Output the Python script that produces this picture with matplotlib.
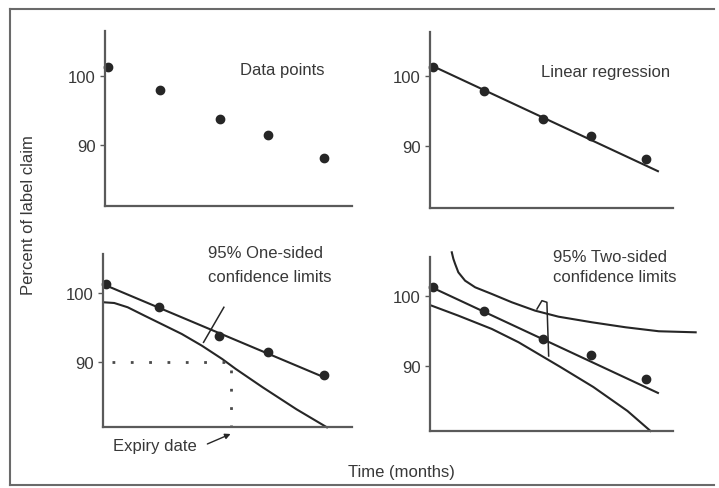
import matplotlib
matplotlib.use("Agg")
import matplotlib.pyplot as plt
from matplotlib.lines import Line2D

# ---------------- data ----------------
months = [0, 2.9, 6.2, 8.9, 12]                 # sampling times
assay = [101.3, 97.9, 93.8, 91.5, 88.1]          # percent of label claim

# regression line drawn in panels (start / end)
fit2_t = [0, 12.7]
fit2_y = [101.4, 86.4]
fit3_t = [-0.1, 12.0]
fit3_y = [101.2, 87.8]
fit4_t = [0, 12.7]
fit4_y = [101.15, 86.15]

# one-sided lower confidence limit (panel 3)
low1_t = [-0.11, 0.45, 1.19, 2.12, 3.05, 4.17, 5.28, 6.4, 7.14, 8.63, 10.49, 12.17]
low1_y = [98.65, 98.55, 97.93, 96.71, 95.51, 94.06, 92.36, 90.43, 89.0, 86.33, 83.15, 80.53]

# two-sided limits (panel 4)
low2_t = [-0.07, 1.43, 3.32, 4.83, 7.19, 9.05, 10.98, 12.28]
low2_y = [98.61, 97.19, 95.29, 93.39, 89.86, 87.0, 83.57, 80.71]
up2_t = [1.06, 1.15, 1.25, 1.43, 1.81, 2.38, 3.32, 4.45, 5.77, 7.09, 8.98, 10.87, 12.75, 14.83]
up2_y = [106.24, 105.3, 104.57, 103.38, 102.19, 101.24, 100.29, 99.1, 97.9, 97.04, 96.24, 95.53, 94.96, 94.81]

# annotation marks
slash_t = [5.37, 6.49]
slash_y = [92.85, 97.93]
bracket_t = [5.87, 6.15, 6.43, 6.53]
bracket_y = [98.14, 99.33, 99.1, 91.43]
spec_limit = 90
expiry_t = 6.9

yticks = [90, 100]
ytick_labels = ["90", "100"]

# ---------------- styling ----------------
W, H = 719, 489
INK = "#262626"
TXT = "#383838"
AX = "#5a5a5a"
plt.rcParams["font.family"] = ["Liberation Sans", "DejaVu Sans"]
FS = 12

fig = plt.figure(figsize=(W / 100, H / 100), dpi=100)
fig.patch.set_facecolor("white")


def fx(x):
    return x / W


def fy(y):
    return 1 - y / H


def make_ax(l, r, t, b, ylim):
    ax = fig.add_axes([fx(l), fy(b), (r - l) / W, (b - t) / H])
    ax.set_xlim(-0.17, 13.55)
    ax.set_ylim(*ylim)
    for s in ("top", "right"):
        ax.spines[s].set_visible(False)
    for s in ("left", "bottom"):
        ax.spines[s].set_color(AX)
        ax.spines[s].set_linewidth(1.6)
    ax.set_xticks([])
    ax.set_yticks(yticks)
    ax.set_yticklabels(ytick_labels)
    ax.tick_params(axis="y", length=3.5, width=1.0, color=AX, pad=3,
                   labelsize=FS, labelcolor=TXT)
    ax.patch.set_alpha(0)
    return ax


ax1 = make_ax(105, 352, 32, 207, (81.16, 106.52))
ax2 = make_ax(430, 673, 33, 209, (81.14, 106.29))
ax3 = make_ax(103, 352, 255, 428, (80.58, 105.65))
ax4 = make_ax(430, 673, 258, 432, (80.71, 105.57))

LW = 1.5
MS = 6

# panel 1: data points
ax1.plot(months, assay, "o", color=INK, ms=MS, clip_on=False)

# panel 2: linear regression
ax2.plot(fit2_t, fit2_y, color=INK, lw=LW, clip_on=False)
ax2.plot(months, assay, "o", color=INK, ms=MS, clip_on=False)

# panel 3: one-sided limits
ax3.plot(fit3_t, fit3_y, color=INK, lw=LW, clip_on=False)
ax3.plot(low1_t, low1_y, color=INK, lw=LW, clip_on=False)
ax3.plot(months, assay, "o", color=INK, ms=MS, clip_on=False)
ax3.plot(slash_t, slash_y, color=INK, lw=1.1, clip_on=False)
ax3.plot([0.3, expiry_t], [spec_limit, spec_limit], color="#4a4a4a", lw=2.0,
         ls=(0, (1.0, 5.6)), clip_on=False)
ax3.plot([expiry_t, expiry_t], [spec_limit - 1.1, ax3.get_ylim()[0]], color="#4a4a4a",
         lw=2.0, ls=(0, (1.0, 5.6)), clip_on=False)
ax3.annotate("", xy=(6.86, 79.57), xytext=(5.58, 78.12),
             arrowprops=dict(arrowstyle="-|>", color=INK, lw=1.0, mutation_scale=8,
                             shrinkA=0, shrinkB=0),
             annotation_clip=False)

# panel 4: two-sided limits
ax4.plot(fit4_t, fit4_y, color=INK, lw=LW, clip_on=False)
ax4.plot(low2_t, low2_y, color=INK, lw=LW, clip_on=False)
ax4.plot(up2_t, up2_y, color=INK, lw=LW, clip_on=False)
ax4.plot(months, assay, "o", color=INK, ms=MS, clip_on=False)
ax4.plot(bracket_t, bracket_y, color=INK, lw=1.1, clip_on=False)

# ---------------- texts ----------------
def ftext(x, y, s, **kw):
    kw.setdefault("fontsize", FS)
    kw.setdefault("color", TXT)
    fig.text(fx(x), fy(y), s, **kw)


ftext(282, 70, "Data points", ha="center", va="center")
ftext(606, 72, "Linear regression", ha="center", va="center")
ftext(208, 254, "95% One-sided", ha="left", va="center")
ftext(208, 277, "confidence limits", ha="left", va="center")
ftext(553, 258, "95% Two-sided", ha="left", va="center")
ftext(553, 278, "confidence limits", ha="left", va="center")
ftext(155, 447, "Expiry date", ha="center", va="center")
ftext(29, 215, "Percent of label claim", ha="center", va="center", rotation=90)
ftext(401, 473, "Time (months)", ha="center", va="center")

# outer frame (left, top, bottom)
for xs, ys in (([10, 10], [10, 486]), ([10, 714], [10, 10]), ([10, 714], [486, 486])):
    fig.add_artist(Line2D([fx(v) for v in xs], [fy(v) for v in ys],
                          color="#6a6a6a", lw=1.5))

fig.savefig("out.png", dpi=100)
